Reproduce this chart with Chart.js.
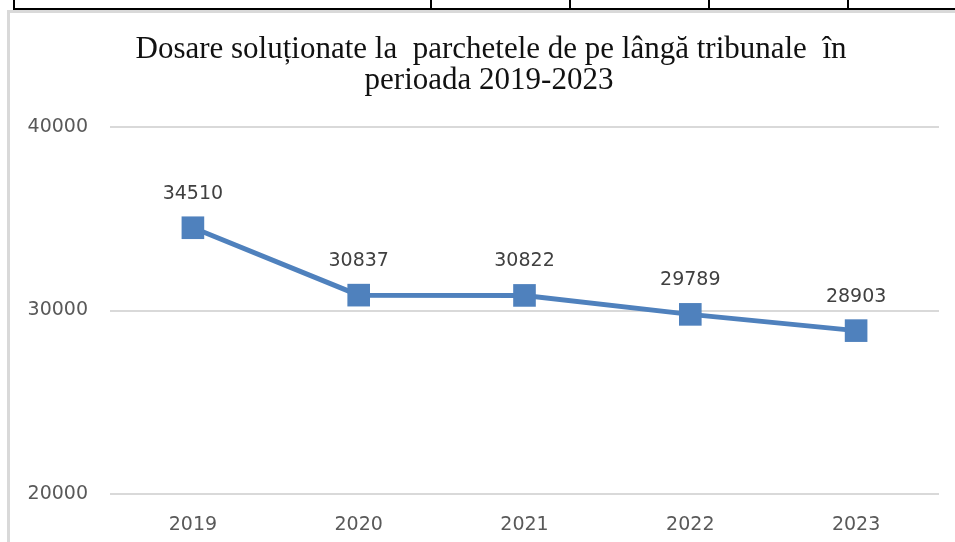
<!DOCTYPE html>
<html>
<head>
<meta charset="utf-8">
<script src="https://cdn.jsdelivr.net/npm/chart.js@4/dist/chart.umd.min.js"></script>
<style>
  html, body { margin: 0; padding: 0; background: #fff; }
  body { width: 955px; height: 542px; position: relative; overflow: hidden; }
  .rule { position: absolute; background: #000; }
  .frame { position: absolute; left: 7px; top: 10px; width: 960px; height: 540px;
           border-left: 3px solid #d9d9d9; border-top: 3px solid #d9d9d9; box-sizing: border-box; }
  #c { position: absolute; left: 10px; top: 13px; display: block; }
</style>
</head>
<body>
<!-- bottom edge of the table above the figure -->
<div class="rule" style="left:13px; top:8px; width:942px; height:2px;"></div>
<div class="rule" style="left:13px; top:0; width:2px; height:10px;"></div>
<div class="rule" style="left:430px; top:0; width:2px; height:10px;"></div>
<div class="rule" style="left:569px; top:0; width:2px; height:10px;"></div>
<div class="rule" style="left:708px; top:0; width:2px; height:10px;"></div>
<div class="rule" style="left:847px; top:0; width:2px; height:10px;"></div>
<div class="frame"></div>
<canvas id="c" width="945" height="529"></canvas>
<script>
const years = ['2019', '2020', '2021', '2022', '2023'];
const solvedCases = [34510, 30837, 30822, 29789, 28903];
const yTicks = [20000, 30000, 40000];
const titleLines = ['Dosare soluționate la  parchetele de pe lângă tribunale  în', 'perioada 2019-2023'];

const BLUE = '#4F81BD';
const TICK_FONT = { family: '"DejaVu Sans", sans-serif', size: 19 };

// Two-line serif heading drawn above the plot area
const headingPlugin = {
  id: 'heading',
  afterDraw(chart) {
    const ctx = chart.ctx;
    ctx.save();
    ctx.fillStyle = '#111';
    ctx.font = '31px "Liberation Serif", serif';
    ctx.textAlign = 'center';
    ctx.textBaseline = 'alphabetic';
    ctx.fillText(titleLines[0], 481, 45);
    ctx.fillText(titleLines[1], 479, 76);
    ctx.restore();
  }
};

// Value written above each point
const valueLabels = {
  id: 'valueLabels',
  afterDatasetsDraw(chart) {
    const ctx = chart.ctx;
    const meta = chart.getDatasetMeta(0);
    ctx.save();
    ctx.fillStyle = '#404040';
    ctx.font = `${TICK_FONT.size}px ${TICK_FONT.family}`;
    ctx.textAlign = 'center';
    ctx.textBaseline = 'middle';
    meta.data.forEach((pt, i) => {
      ctx.fillText(String(solvedCases[i]), pt.x, pt.y - 34);
    });
    ctx.restore();
  }
};

new Chart(document.getElementById('c'), {
  type: 'line',
  data: {
    labels: years,
    datasets: [{
      data: solvedCases,
      borderColor: BLUE,
      backgroundColor: BLUE,
      borderWidth: 5,
      pointStyle: 'rect',
      pointRadius: 16,
      pointHoverRadius: 16,
      pointBorderWidth: 0,
      tension: 0
    }]
  },
  options: {
    responsive: false,
    maintainAspectRatio: false,
    animation: false,
    devicePixelRatio: 1,
    layout: { padding: { top: 114, right: 15, bottom: 8, left: 0 } },
    plugins: {
      legend: { display: false },
      tooltip: { enabled: false },
      title: { display: false }
    },
    scales: {
      x: {
        offset: true,
        afterFit(axis) { axis.height = 40; },
        grid: { display: false, drawTicks: false },
        border: { display: false },
        ticks: { color: '#595959', font: TICK_FONT, padding: 20, maxRotation: 0 }
      },
      y: {
        min: 20000,
        max: 40000,
        afterBuildTicks(axis) { axis.ticks = yTicks.map(v => ({ value: v })); },
        afterFit(axis) { axis.width = 100; },
        grid: { color: '#d9d9d9', lineWidth: 2, drawTicks: false },
        border: { display: false },
        ticks: { color: '#595959', font: TICK_FONT, padding: 22, callback: v => String(v) }
      }
    }
  },
  plugins: [headingPlugin, valueLabels]
});
</script>
</body>
</html>
